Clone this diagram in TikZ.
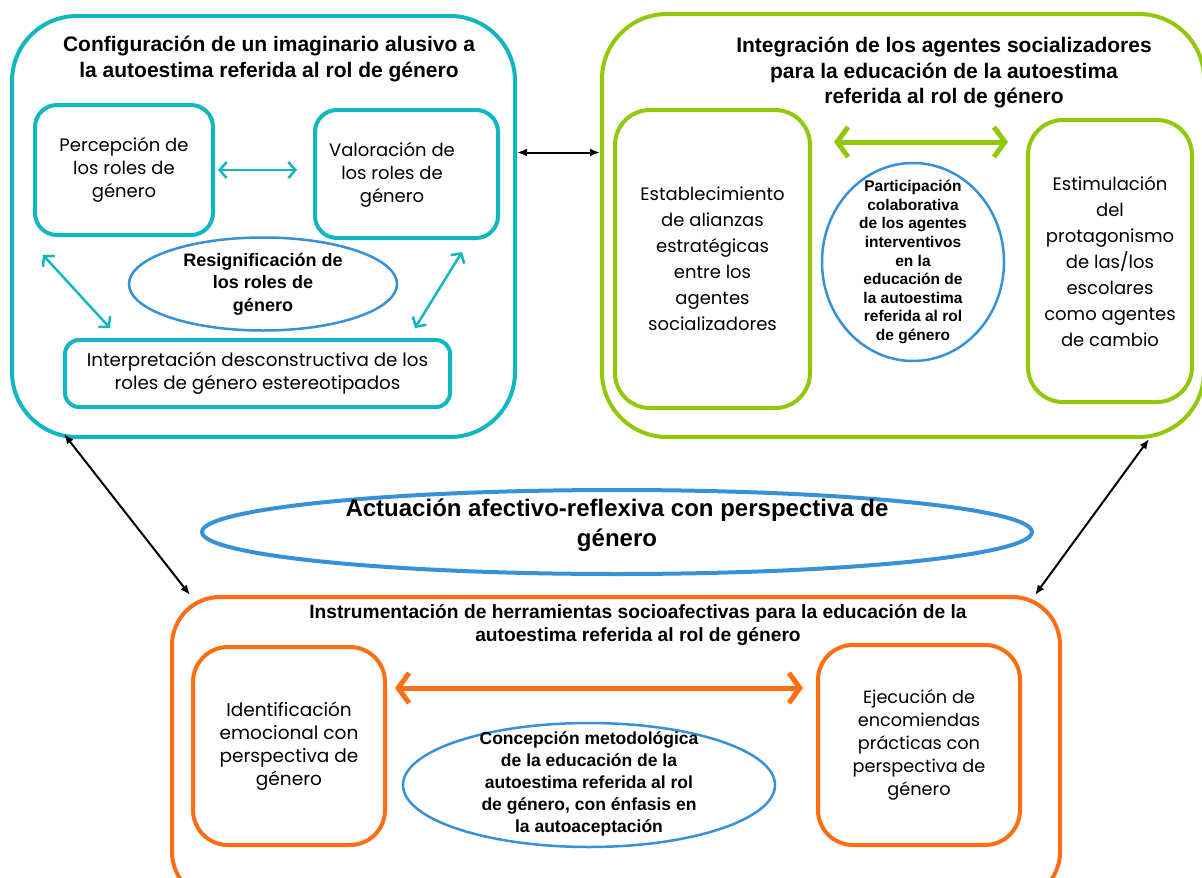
\documentclass[tikz,border=0pt]{standalone}
\usepackage{fontspec}
\setmainfont{Liberation Sans}
\newfontfamily\geo{Poppins}
\usetikzlibrary{shapes.geometric,arrows.meta,calc}
\definecolor{teal1}{RGB}{16,183,192}
\definecolor{green1}{RGB}{146,200,10}
\definecolor{orange1}{RGB}{255,110,20}
\definecolor{blue1}{RGB}{55,145,215}
\tikzset{
  outerbox/.style={draw, line width=4pt, rectangle, rounded corners=65pt, inner sep=0pt},
  innerbox/.style={draw, line width=4pt, rectangle, inner sep=0pt},
  oval/.style={draw=blue1, ellipse, line width=2.5pt, inner sep=0pt},
  btxt/.style={align=center, font=\bfseries, inner sep=0pt},
  rtxt/.style={align=center, font=\geo, inner sep=0pt},
  tarrow/.style={teal1, line width=2.5pt, {Straight Barb[length=7pt,width=16pt]}-{Straight Barb[length=7pt,width=16pt]}},
  barrowstyle/.style={black, line width=2pt, {Latex[length=10pt,width=8pt]}-{Latex[length=10pt,width=8pt]}},
  fatarrow/.style={line width=5pt, {Straight Barb[length=11pt,width=30pt]}-{Straight Barb[length=11pt,width=30pt]}}
}
\begin{document}
\begin{tikzpicture}[x=1pt,y=-1pt]
\useasboundingbox (0,0) rectangle (1202,878);
\fill[white] (0,0) rectangle (1202,878);
\clip (0,0) rectangle (1202,878);

% ---------- teal block ----------
\node[outerbox, draw=teal1, minimum width=503pt, minimum height=421pt] (box1) at (263.5,226.5) {};
\node[btxt, font=\bfseries\fontsize{21}{26}\selectfont] (title1) at (269,59)
  {Configuración de un imaginario alusivo a\\la autoestima referida al rol de género};
\node[innerbox, draw=teal1, rounded corners=22pt, minimum width=178pt, minimum height=130pt] (perc) at (124,170) {};
\node[rtxt, font=\geo\fontsize{18}{23}\selectfont] at (perc) {Percepción de\\los roles de\\género};
\node[innerbox, draw=teal1, rounded corners=22pt, minimum width=183pt, minimum height=128pt] (val) at (406.5,174) {};
\node[rtxt, font=\geo\fontsize{18}{23}\selectfont] at (392,175) {Valoración de\\los roles de\\género};
\node[innerbox, draw=teal1, rounded corners=14pt, minimum width=385pt, minimum height=67pt] (interp) at (257.5,373.5) {};
\node[rtxt, font=\geo\fontsize{18.3}{23}\selectfont] at (interp) {Interpretación desconstructiva de los\\roles de género estereotipados};
\node[oval, minimum width=268pt, minimum height=93pt] (resig) at (263,284) {};
\node[btxt, font=\bfseries\fontsize{18}{22.5}\selectfont] at (resig) {Resignificación de\\los roles de\\género};

\draw[tarrow, shorten <=3pt, shorten >=16pt] (perc.east) -- (perc.east -| val.west);
\draw[tarrow] ($(perc.south west)+(10,18)$) -- ($(interp.north west)+(47,-10)$);
\draw[tarrow] ($(val.south east)+(-38,12)$) -- ($(interp.north east)+(-37,-10)$);

% ---------- green block ----------
\node[outerbox, draw=green1, minimum width=602pt, minimum height=423pt] (box2) at (903,225.5) {};
\node[btxt, font=\bfseries\fontsize{21}{25.5}\selectfont] (title2) at (944,73)
  {Integración de los agentes socializadores\\para la educación de la autoestima\\referida al rol de género};
\node[innerbox, draw=green1, rounded corners=35pt, minimum width=195pt, minimum height=298pt] (estab) at (712.5,259) {};
\node[rtxt, font=\geo\fontsize{18}{26}\selectfont] at (estab) {Establecimiento\\de alianzas\\estratégicas\\entre los\\agentes\\socializadores};
\node[innerbox, draw=green1, rounded corners=35pt, minimum width=164pt, minimum height=282pt] (estim) at (1110,261) {};
\node[rtxt, font=\geo\fontsize{18}{26}\selectfont] at (estim) {Estimulación\\del\\protagonismo\\de las/los\\escolares\\como agentes\\de cambio};
\node[oval, minimum width=182pt, minimum height=198pt] (partic) at (913,262) {};
\node[btxt, font=\bfseries\fontsize{15.5}{18.6}\selectfont] at (partic) {Participación\\colaborativa\\de los agentes\\interventivos\\en la\\educación de\\la autoestima\\referida al rol\\de género};

\coordinate (g1) at ($(estab.east)+(0,-117)$);
\draw[fatarrow, green1, shorten <=22pt, shorten >=18pt] (g1) -- (g1 -| estim.west);

% ---------- middle ellipse ----------
\node[oval, line width=4pt, minimum width=830pt, minimum height=84pt] (mid) at (617,532) {};
\node[btxt, font=\bfseries\fontsize{24}{30}\selectfont] at (617,525) {Actuación afectivo-reflexiva con perspectiva de\\género};

% ---------- orange block ----------
\node[outerbox, draw=orange1, rounded corners=48pt, minimum width=888pt, minimum height=303pt] (box3) at (616,748.5) {};
\node[btxt, font=\bfseries\fontsize{19.2}{23}\selectfont] (title3) at (638,625)
  {Instrumentación de herramientas socioafectivas para la educación de la\\autoestima referida al rol de género};
\node[innerbox, draw=orange1, rounded corners=35pt, minimum width=192pt, minimum height=198pt] (ident) at (289,746) {};
\node[rtxt, font=\geo\fontsize{18.5}{23}\selectfont] at (ident) {Identificación\\emocional con\\perspectiva de\\género};
\node[innerbox, draw=orange1, rounded corners=35pt, minimum width=202pt, minimum height=200pt] (ejec) at (919,745) {};
\node[rtxt, font=\geo\fontsize{17.7}{23}\selectfont] at (ejec) {Ejecución de\\encomiendas\\prácticas con\\perspectiva de\\género};
\node[oval, minimum width=372pt, minimum height=124pt] (conc) at (589,785) {};
\node[btxt, font=\bfseries\fontsize{17.5}{22}\selectfont] at (589,784) {Concepción metodológica\\de la educación de la\\autoestima referida al rol\\de género, con énfasis en\\la autoaceptación};

\coordinate (o1) at ($(ident.east)+(0,-58)$);
\draw[fatarrow, orange1, shorten <=8pt, shorten >=13pt] (o1) -- (o1 -| ejec.west);

% ---------- black connectors ----------
\coordinate (k1) at ($(box1.east)+(0,-74)$);
\draw[barrowstyle] (k1) -- (k1 -| box2.west);
\draw[barrowstyle] ($(box1.south west)+(54,-5)$) -- ($(box3.north west)+(20,0)$);
\draw[barrowstyle] ($(box2.south east)+(-57,0)$) -- ($(box3.north east)+(-27,0)$);
\end{tikzpicture}
\end{document}
